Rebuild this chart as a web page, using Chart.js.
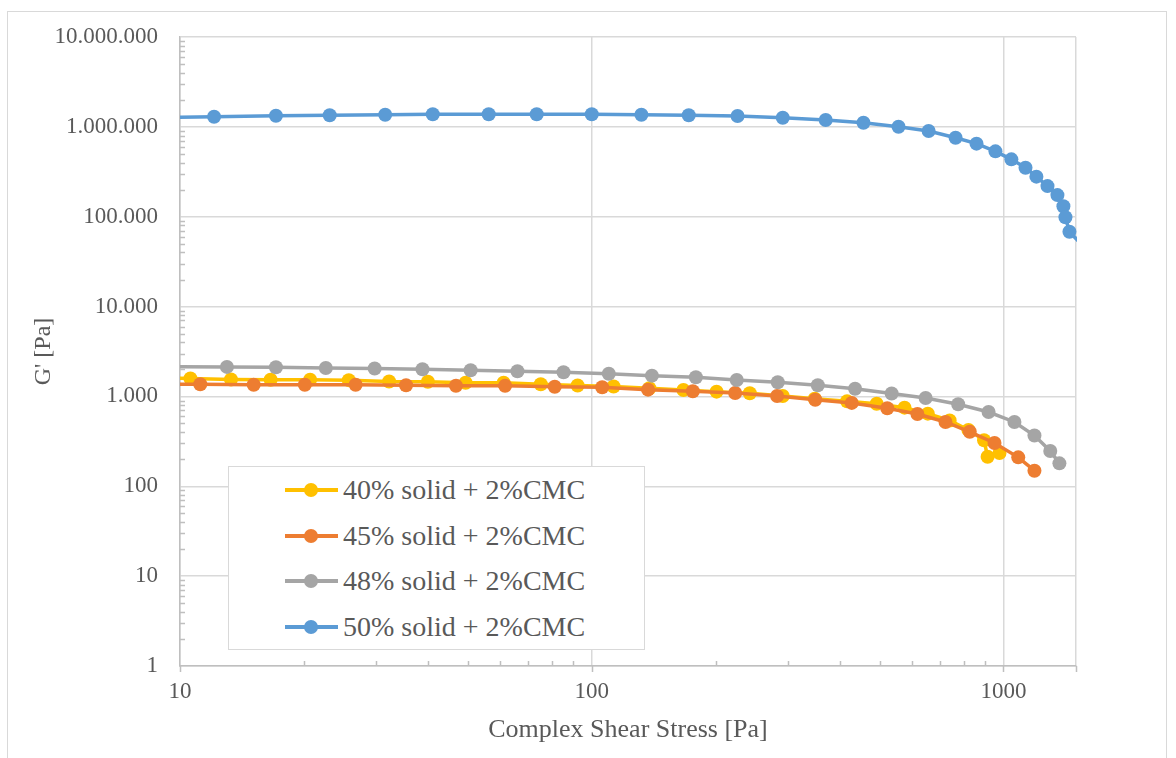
<!DOCTYPE html>
<html>
<head>
<meta charset="utf-8">
<script src="https://cdn.jsdelivr.net/npm/chart.js@4.4.1/dist/chart.umd.min.js"></script>
<style>
  html, body { margin: 0; padding: 0; background: #fff; }
  #wrap { position: relative; width: 1176px; height: 758px; overflow: hidden; }
  #frame { position: absolute; left: 7px; top: 11px; width: 1160px; height: 770px; border: 1px solid #d9d9d9; box-sizing: border-box; }
  #chart { position: absolute; left: 0; top: 0; }
  #legend {
    position: absolute; left: 228px; top: 466px; width: 417px; height: 184px;
    background: #fff; border: 1.5px solid #d9d9d9; box-sizing: border-box;
    font-family: "Liberation Serif", "Times New Roman", serif; font-size: 28px; color: #595959;
  }
  .item { position: absolute; left: 56px; height: 30px; display: flex; align-items: center; }
  .sample { position: relative; width: 53px; height: 30px; margin-right: 5px; }
  .sample .ln { position: absolute; left: 0; right: 0; top: 13px; height: 4px; }
  .sample .dot { position: absolute; left: 19px; top: 8px; width: 14px; height: 14px; border-radius: 50%; }
  .item span.txt { white-space: pre; }
</style>
</head>
<body>
<div id="wrap">
  <div id="frame"></div>
  <canvas id="chart" width="1176" height="758"></canvas>
  <div id="legend"></div>
</div>
<script>
// ——— DATA ———
const seriesNames = ['40% solid + 2%CMC', '45% solid + 2%CMC', '48% solid + 2%CMC', '50% solid + 2%CMC'];
const seriesColors = ['#FFC000', '#ED7D31', '#A5A5A5', '#5B9BD5'];

// complex shear stress [Pa] and storage modulus G' [Pa]
const stress40 = [8.45, 10.6, 13.3, 16.6, 20.7, 25.7, 32.2, 40.0, 49.4, 61.1, 75.2, 92.4, 113, 138, 167, 201, 242, 291, 348, 417, 492, 575, 655, 740, 822, 897, 915, 978];
const g40 = [1600, 1585, 1545, 1536, 1536, 1518, 1466, 1456, 1419, 1419, 1365, 1324, 1291, 1232, 1180, 1130, 1084, 1011, 942, 885, 828, 750, 643, 540, 424, 325, 213, 235];

const stress45 = [8.4, 11.2, 15.1, 20.1, 26.7, 35.4, 46.8, 61.6, 81.3, 106, 137, 176, 223, 282, 349, 428, 522, 618, 723, 828, 951, 1086, 1189];
const g45 = [1370, 1365, 1351, 1351, 1351, 1330, 1317, 1317, 1283, 1264, 1189, 1140, 1091, 1011, 920, 847, 738, 638, 520, 404, 303, 210, 149];

const stress48 = [9.55, 13.0, 17.1, 22.6, 29.7, 38.8, 50.8, 66.0, 85.4, 110, 140, 179, 225, 283, 354, 436, 535, 647, 776, 920, 1063, 1189, 1299, 1367];
const g48 = [2140, 2130, 2110, 2072, 2046, 2005, 1954, 1905, 1857, 1791, 1702, 1633, 1524, 1436, 1330, 1219, 1078, 961, 818, 671, 520, 367, 247, 180];

const stress50 = [8.55, 12.1, 17.1, 23.1, 31.5, 41.1, 56.2, 73.5, 100, 132, 172, 226, 291, 370, 457, 556, 658, 765, 860, 956, 1045, 1131, 1202, 1279, 1352, 1398, 1414, 1446, 1600];
const g50 = [1270000, 1297000, 1331000, 1345000, 1365000, 1380000, 1380000, 1380000, 1380000, 1365000, 1345000, 1320000, 1264000, 1192000, 1111000, 1004000, 899000, 757000, 650000, 534000, 435000, 351000, 279000, 219000, 174000, 131000, 98500, 68000, 42000];

// axis ticks
const xMin = 10, xMax = 1500;
const yMin = 1, yMax = 10000000;
const xTickValues = [10, 100, 1000];
const xTickLabels = ['10', '100', '1000'];
const yTickValues = [1, 10, 100, 1000, 10000, 100000, 1000000, 10000000];
const yTickLabels = ['1', '10', '100', '1.000', '10.000', '100.000', '1.000.000', '10.000.000'];

const xs = [stress40, stress45, stress48, stress50];
const ys = [g40, g45, g48, g50];

// ——— HELPERS ———
const FONT = '"Liberation Serif", "Times New Roman", serif';
const TEXT = '#595959';
const GRID = '#d9d9d9';
const AXIS = '#bfbfbf';

function logTicks(min, max) {
  const out = [];
  for (let e = Math.floor(Math.log10(min)); Math.pow(10, e) <= max; e++) {
    for (let m = 1; m <= 9; m++) {
      const v = m * Math.pow(10, e);
      if (v >= min && v <= max) out.push({ value: v });
    }
  }
  if (out[out.length - 1].value !== max) out.push({ value: max });
  return out;
}
const isMajor = v => Math.abs(Math.log10(v) - Math.round(Math.log10(v))) < 1e-9;

// minor tick marks point into the plot, major x ticks hang below the axis
const innerTicks = {
  id: 'innerTicks',
  afterDatasetsDraw(chart) {
    const { ctx, chartArea: a, scales: { x, y } } = chart;
    ctx.save();
    ctx.strokeStyle = AXIS;
    ctx.lineWidth = 1.5;
    ctx.beginPath();
    x.ticks.forEach(t => {
      const px = Math.round(x.getPixelForValue(t.value)) + 0.5;
      if (isMajor(t.value) || t.value === xMax) { ctx.moveTo(px, a.bottom); ctx.lineTo(px, a.bottom + 6); }
      else { ctx.moveTo(px, a.bottom); ctx.lineTo(px, a.bottom - 5); }
    });
    y.ticks.forEach(t => {
      if (isMajor(t.value)) return;
      const py = Math.round(y.getPixelForValue(t.value)) + 0.5;
      ctx.moveTo(a.left, py); ctx.lineTo(a.left + 5, py);
    });
    ctx.stroke();
    ctx.restore();
  }
};

// ——— CHART ———
const datasets = seriesNames.map((name, i) => ({
  label: name,
  data: xs[i].map((v, k) => ({ x: v, y: ys[i][k] })),
  borderColor: seriesColors[i],
  backgroundColor: seriesColors[i],
  pointBackgroundColor: seriesColors[i],
  pointBorderWidth: 0,
  pointRadius: 7,
  borderWidth: 3.5,
  showLine: true,
  tension: 0,
  order: 4 - i,
  clip: { left: 0, top: 8, right: 1, bottom: 8 }
}));

new Chart(document.getElementById('chart'), {
  type: 'scatter',
  data: { datasets },
  options: {
    responsive: false,
    animation: false,
    layout: { padding: { left: 0, right: 100, top: 37, bottom: 0 } },
    plugins: { legend: { display: false }, tooltip: { enabled: false } },
    scales: {
      x: {
        type: 'logarithmic',
        min: xMin, max: xMax,
        afterBuildTicks: s => { s.ticks = logTicks(xMin, xMax); },
        afterFit: s => { s.height = 92; },
        border: { color: AXIS, width: 1.5 },
        grid: {
          drawTicks: false,
          lineWidth: 1.5,
          color: c => (c.tick && (isMajor(c.tick.value) || c.tick.value === xMax)) ? GRID : 'rgba(0,0,0,0)'
        },
        ticks: {
          autoSkip: false, maxRotation: 0, padding: 12,
          color: TEXT, font: { family: FONT, size: 23 },
          callback: v => { const k = xTickValues.indexOf(v); return k >= 0 ? xTickLabels[k] : ''; }
        },
        title: {
          display: true, text: 'Complex Shear Stress [Pa]',
          color: TEXT, font: { family: FONT, size: 26 },
          padding: { top: 0, bottom: 12 }
        }
      },
      y: {
        type: 'logarithmic',
        min: yMin, max: yMax,
        afterBuildTicks: s => { s.ticks = logTicks(yMin, yMax); },
        afterFit: s => { s.width = 180; },
        border: { color: AXIS, width: 1.5 },
        grid: {
          drawTicks: false,
          lineWidth: 1.5,
          color: c => (c.tick && isMajor(c.tick.value)) ? GRID : 'rgba(0,0,0,0)'
        },
        ticks: {
          autoSkip: false, padding: 22,
          color: TEXT, font: { family: FONT, size: 23 },
          callback: v => { const k = yTickValues.indexOf(v); return k >= 0 ? yTickLabels[k] : ''; }
        },
        title: {
          display: true, text: "G' [Pa]",
          color: TEXT, font: { family: FONT, size: 24 },
          padding: { top: 29, bottom: 0 }
        }
      }
    }
  },
  plugins: [innerTicks]
});

// ——— LEGEND ———
const legend = document.getElementById('legend');
seriesNames.forEach((name, i) => {
  const row = document.createElement('div');
  row.className = 'item';
  row.style.top = (8 + i * 45.6) + 'px';
  row.innerHTML = `<div class="sample"><div class="ln" style="background:${seriesColors[i]}"></div><div class="dot" style="background:${seriesColors[i]}"></div></div><span class="txt">${name}</span>`;
  legend.appendChild(row);
});
</script>
</body>
</html>
